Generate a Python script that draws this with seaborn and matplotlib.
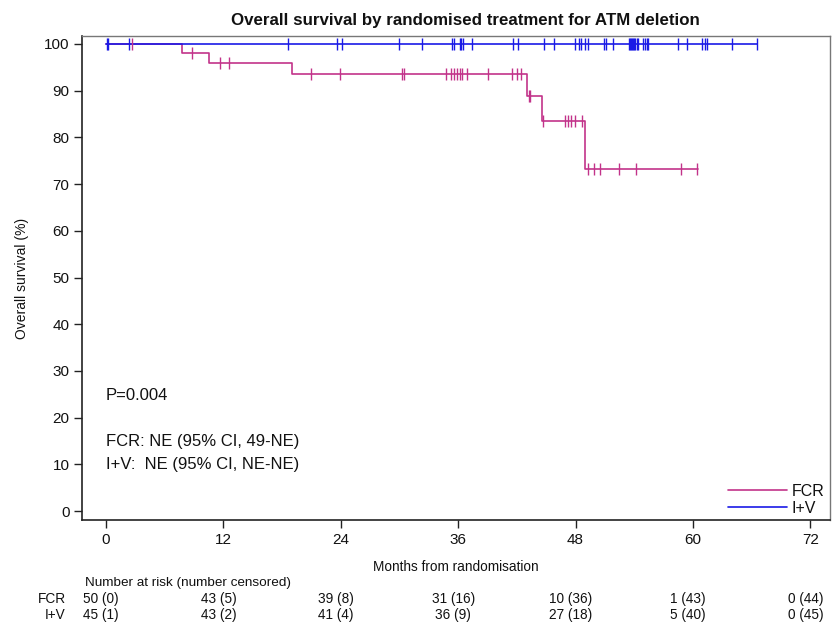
import matplotlib
matplotlib.use("Agg")
import matplotlib.pyplot as plt
import seaborn as sns
import pandas as pd

# Kaplan-Meier step curves (months, survival %)
fcr_times = [0, 7.8, 10.5, 19.05, 43.0, 44.55, 49.0, 60.5]
fcr_surv = [100, 97.96, 95.87, 93.5, 88.9, 83.6, 73.2, 73.2]
iv_times = [0, 66.5]
iv_surv = [100, 100]

# Censoring times (months)
fcr_censor = [2.7, 8.8, 11.7, 12.6, 21.0, 23.9, 30.3, 30.5, 34.8, 35.3, 35.6,
              35.9, 36.2, 36.4, 36.9, 39.0, 41.5, 42.0, 42.4, 43.2, 43.35, 44.7,
              46.9, 47.2, 47.5, 47.9, 48.7, 49.25, 49.9, 50.5, 52.4, 54.2, 58.8, 60.4]
iv_censor = [0.1, 0.25, 2.4, 18.6, 23.6, 24.1, 30.0, 32.3, 35.4, 35.6, 36.2, 36.3,
             36.5, 37.4, 41.6, 42.1, 44.8, 45.8, 47.9, 48.3, 48.5, 49.0, 49.3,
             50.9, 51.1, 51.8, 53.5, 53.6, 53.7, 53.8, 53.9, 54.0, 54.1, 54.3,
             54.4, 54.9, 55.1, 55.25, 55.4, 58.5, 59.4, 60.9, 61.2, 61.4, 64.0, 66.5]

# Number at risk (number censored)
risk_times = [0, 12, 24, 36, 48, 60, 72]
fcr_risk = ["50 (0)", "43 (5)", "39 (8)", "31 (16)", "10 (36)", "1 (43)", "0 (44)"]
iv_risk = ["45 (1)", "43 (2)", "41 (4)", "36 (9)", "27 (18)", "5 (40)", "0 (45)"]

groups = ["FCR", "I+V"]
colors = {"FCR": "#C2338A", "I+V": "#1A1AE6"}

sns.set_style("ticks")
plt.rcParams["font.family"] = ["Liberation Sans", "DejaVu Sans"]
plt.rcParams["text.color"] = "#111111"
plt.rcParams["axes.labelcolor"] = "#111111"
plt.rcParams["xtick.color"] = "#111111"
plt.rcParams["ytick.color"] = "#111111"

fig = plt.figure(figsize=(8.32, 6.26), dpi=100)
ax = fig.add_axes([82 / 832, 1 - 520 / 626, (830 - 82) / 832, (520 - 36) / 626])

curves = pd.concat([
    pd.DataFrame({"time": fcr_times, "surv": fcr_surv, "arm": "FCR"}),
    pd.DataFrame({"time": iv_times, "surv": iv_surv, "arm": "I+V"}),
])
censors = pd.concat([
    pd.DataFrame({"time": fcr_censor,
                  "surv": [fcr_surv[max(i for i, t in enumerate(fcr_times[:-1]) if t <= c)]
                           for c in fcr_censor],
                  "arm": "FCR"}),
    pd.DataFrame({"time": iv_censor, "surv": [100] * len(iv_censor), "arm": "I+V"}),
])

sns.lineplot(data=curves, x="time", y="surv", hue="arm", palette=colors,
             hue_order=groups, estimator=None, sort=False, drawstyle="steps-post",
             linewidth=1.2, ax=ax)
for arm in groups:
    sub = censors[censors["arm"] == arm]
    ax.plot(sub["time"], sub["surv"], linestyle="none", marker="|",
            markersize=8, markeredgewidth=1.0, color=colors[arm])

ax.set_xlim(-2.45, 74.0)
ax.set_ylim(-1.9, 101.7)
ax.set_xticks(risk_times)
ax.set_yticks(range(0, 101, 10))
ax.tick_params(axis="both", labelsize=11, length=6, width=1.0, direction="out",
               color="#222222", pad=3)
for side in ["left", "bottom"]:
    ax.spines[side].set_color("#222222")
    ax.spines[side].set_linewidth(1.2)
for side in ["top", "right"]:
    ax.spines[side].set_visible(True)
    ax.spines[side].set_color("#777777")
    ax.spines[side].set_linewidth(1.0)

ax.set_xlabel("Months from randomisation", fontsize=9.8, labelpad=10)
ax.set_ylabel("Overall survival (%)", fontsize=10, labelpad=11)
ax.set_title("Overall survival by randomised treatment for ATM deletion",
             fontsize=12.2, fontweight="bold", pad=8, x=0.513)

ax.text(0.0, 24.8, "P=0.004", fontsize=12, ha="left", va="center")
ax.text(0.0, 14.8, "FCR: NE (95% CI, 49-NE)", fontsize=12, ha="left", va="center")
ax.text(0.0, 9.9, "I+V:  NE (95% CI, NE-NE)", fontsize=12, ha="left", va="center")

handles, labels = ax.get_legend_handles_labels()
ax.legend(handles=handles, labels=labels, loc="lower right", frameon=False,
          fontsize=11.5, handlelength=3.7, handletextpad=0.3, labelspacing=0.12,
          borderaxespad=0.1, bbox_to_anchor=(1.003, -0.008))

# risk table below the axis
fig.text(85 / 832, 1 - 583 / 626, "Number at risk (number censored)", fontsize=9.7,
         ha="left", va="center")
for label, row, ypx in [("FCR", fcr_risk, 599), ("I+V", iv_risk, 615)]:
    fig.text(66 / 832, 1 - ypx / 626, label, fontsize=9.8, ha="right", va="center")
    for t, s in zip(risk_times, row):
        xpx = ax.transData.transform((t, 0))[0]
        fig.text(xpx / 832 - 0.006, 1 - ypx / 626, s, fontsize=9.8, ha="center",
                 va="center")

fig.savefig("out.png", dpi=100)
